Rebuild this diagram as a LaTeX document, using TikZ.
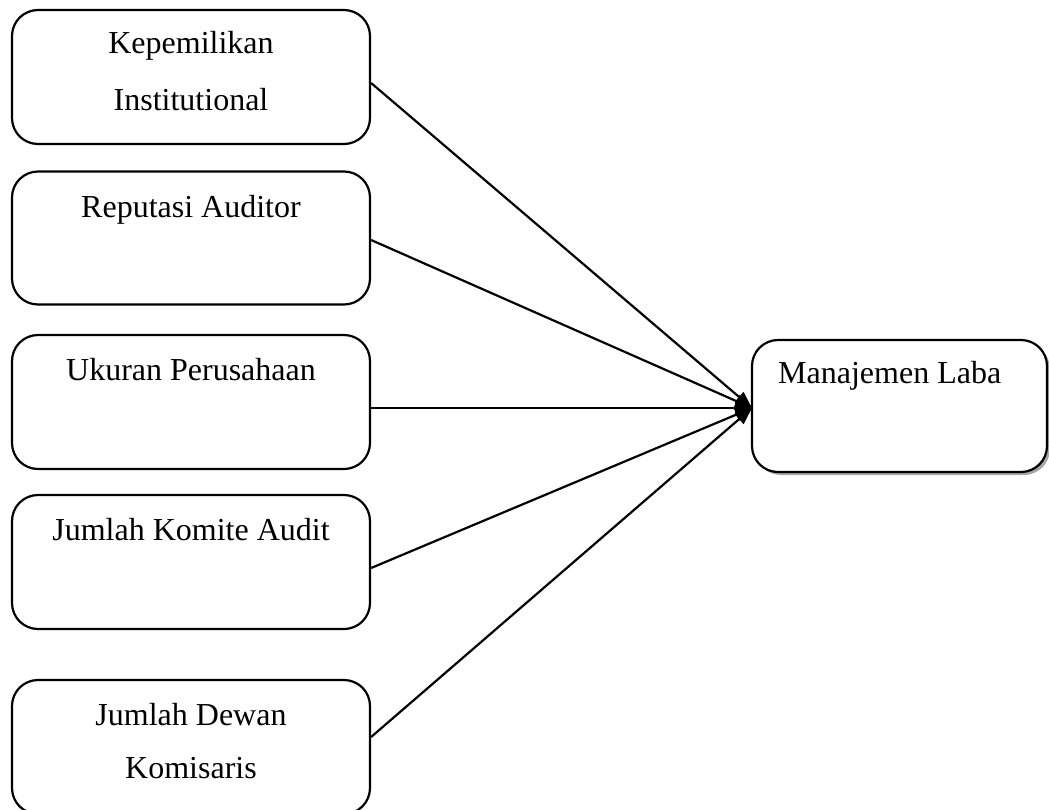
\documentclass[tikz,border=0pt]{standalone}
\usepackage{fontspec}
\setmainfont{Liberation Serif}
\usetikzlibrary{arrows.meta,shadows}
\tikzset{
  boxnode/.style={draw, line width=2.2pt, rounded corners=26pt, inner sep=0pt, fill=white},
  lbl/.style={font=\fontsize{32}{38}\selectfont, inner sep=0pt, anchor=base},
  conn/.style={line width=2.2pt, -{Triangle[length=17pt,width=13pt]}}
}
\begin{document}
\begin{tikzpicture}[x=1pt,y=-1pt]
\useasboundingbox (0,0) rectangle (1049,809);
% left boxes
\node[boxnode, minimum width=358pt, minimum height=134pt] (b1) at (191,77) {};
\node[boxnode, minimum width=358pt, minimum height=133pt] (b2) at (191,238) {};
\node[boxnode, minimum width=358pt, minimum height=134pt] (b3) at (191,402) {};
\node[boxnode, minimum width=358pt, minimum height=134pt] (b4) at (191,562) {};
\node[boxnode, minimum width=358pt, minimum height=134pt] (b5) at (191,747) {};
% target box
\node[boxnode, minimum width=295pt, minimum height=132pt,
      drop shadow={shadow xshift=3pt, shadow yshift=-3pt, fill=gray!70, opacity=1}] (m) at (899.5,406) {};
% labels
\node[lbl] (t1a) at (191,53) {Kepemilikan};
\node[lbl] (t1b) at (191,110) {Institutional};
\node[lbl] (t2) at (191,217) {Reputasi Auditor};
\node[lbl] (t3) at (191,380) {Ukuran Perusahaan};
\node[lbl] (t4) at (191,540) {Jumlah Komite Audit};
\node[lbl] (t5a) at (191,725) {Jumlah Dewan};
\node[lbl] (t5b) at (191,778) {Komisaris};
\node[lbl, anchor=base west] (tm) at (778,383) {Manajemen Laba};
% connectors
\coordinate (tip) at (752,408);
\draw[conn] (b1.east |- 0,83) -- (tip);
\draw[conn] (b2.east |- 0,240) -- (tip);
\draw[conn] (b3.east |- 0,408) -- (tip);
\draw[conn] (b4.east |- 0,568) -- (tip);
\draw[conn] (b5.east |- 0,737) -- (tip);
\end{tikzpicture}
\end{document}
